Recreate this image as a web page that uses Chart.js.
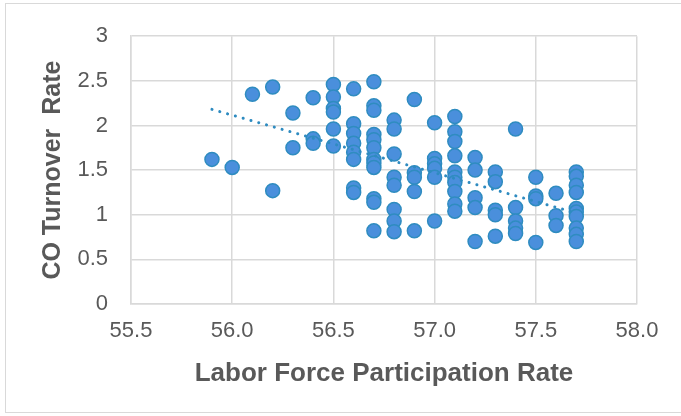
<!DOCTYPE html>
<html><head><meta charset="utf-8">
<script src="https://cdn.jsdelivr.net/npm/chart.js"></script>
<style>
html,body{margin:0;padding:0;background:#fff;}
#wrap{position:relative;width:681px;height:416px;overflow:hidden;}
#frame{position:absolute;left:5px;top:3px;width:677px;height:410px;border:1px solid #D9D9D9;box-sizing:border-box;pointer-events:none;}
canvas{position:absolute;left:0;top:0;}
</style></head><body>
<div id="wrap"><canvas id="c" width="681" height="416"></canvas><div id="frame"></div></div>
<script>
// Labor force participation rate (x) and CO turnover rate (y), one entry per point
const lfpr = [
  55.9,
  56.0,
  56.1,
  56.2, 56.2,
  56.3, 56.3,
  56.4, 56.4, 56.4,
  56.5, 56.5, 56.5, 56.5, 56.5, 56.5,
  56.6, 56.6, 56.6, 56.6, 56.6, 56.6, 56.6, 56.6,
  56.7, 56.7, 56.7, 56.7, 56.7, 56.7, 56.7, 56.7, 56.7, 56.7, 56.7, 56.7,
  56.8, 56.8, 56.8, 56.8, 56.8, 56.8, 56.8, 56.8,
  56.9, 56.9, 56.9, 56.9, 56.9,
  57.0, 57.0, 57.0, 57.0, 57.0, 57.0,
  57.1, 57.1, 57.1, 57.1, 57.1, 57.1, 57.1, 57.1, 57.1, 57.1,
  57.2, 57.2, 57.2, 57.2, 57.2,
  57.3, 57.3, 57.3, 57.3, 57.3,
  57.4, 57.4, 57.4, 57.4, 57.4,
  57.5, 57.5, 57.5, 57.5,
  57.6, 57.6, 57.6,
  57.7, 57.7, 57.7, 57.7, 57.7, 57.7, 57.7, 57.7, 57.7, 57.7
];
const turnover = [
  1.62,
  1.53,
  2.35,
  2.43, 1.27,
  2.14, 1.75,
  2.31, 1.85, 1.80,
  2.46, 2.32, 2.19, 2.15, 1.96, 1.77,
  2.41, 2.02, 1.91, 1.80, 1.70, 1.62, 1.30, 1.25,
  2.49, 2.22, 2.17, 1.90, 1.84, 1.75, 1.62, 1.58, 1.53, 1.18, 1.14, 0.82,
  2.06, 1.96, 1.68, 1.42, 1.33, 1.06, 0.93, 0.81,
  2.29, 1.47, 1.42, 1.26, 0.82,
  2.03, 1.63, 1.57, 1.52, 1.42, 0.93,
  2.10, 1.93, 1.82, 1.66, 1.48, 1.42, 1.36, 1.26, 1.12, 1.04,
  1.64, 1.50, 1.19, 1.08, 0.70,
  1.48, 1.37, 1.05, 1.00, 0.76,
  1.96, 1.08, 0.93, 0.85, 0.79,
  1.42, 1.21, 1.18, 0.69,
  1.24, 0.99, 0.88,
  1.48, 1.43, 1.33, 1.25, 1.07, 1.03, 0.98, 0.85, 0.78, 0.70
];
const xTicks = [55.5, 56.0, 56.5, 57.0, 57.5, 58.0];
const yTicks = [0, 0.5, 1, 1.5, 2, 2.5, 3];
const xTitle = 'Labor Force Participation Rate';
const yTitle = 'CO Turnover  Rate';

// linear least-squares trendline over the data range
const n = lfpr.length;
const mx = lfpr.reduce((a, b) => a + b, 0) / n;
const my = turnover.reduce((a, b) => a + b, 0) / n;
let sxy = 0, sxx = 0;
for (let i = 0; i < n; i++) { sxy += (lfpr[i] - mx) * (turnover[i] - my); sxx += (lfpr[i] - mx) ** 2; }
const slope = sxy / sxx, icpt = my - slope * mx;
const xMin = Math.min(...lfpr), xMax = Math.max(...lfpr);
const trend = [xMin, xMax].map(x => ({x, y: icpt + slope * x}));

const points = lfpr.map((x, i) => ({x, y: turnover[i]}));
const FONT = '"Liberation Sans", Arial, sans-serif';
const TXT = '#595959', GRID = '#D9D9D9';

new Chart(document.getElementById('c'), {
  type: 'scatter',
  data: {
    datasets: [
      {
        type: 'line', data: trend, borderColor: '#2E8BC0', borderWidth: 3,
        borderDash: [0.1, 8], borderCapStyle: 'round', pointRadius: 0, fill: false, order: 0
      },
      {
        data: points, backgroundColor: '#4A8FDC', borderColor: '#2F8CC0',
        borderWidth: 1.5, pointRadius: 7, order: 1
      }
    ]
  },
  options: {
    responsive: false, animation: false,
    layout: {padding: {left: 0, right: 44, top: 32, bottom: 0}},
    plugins: {legend: {display: false}, tooltip: {enabled: false}},
    scales: {
      x: {
        type: 'linear', min: 55.5, max: 58.0,
        afterBuildTicks: s => { s.ticks = xTicks.map(v => ({value: v})); },
        afterFit: s => { s.height = 112; },
        ticks: {color: TXT, font: {family: FONT, size: 22}, padding: 14, callback: v => v.toFixed(1)},
        grid: {color: GRID, lineWidth: 1.5, drawTicks: false},
        border: {color: GRID, width: 1.5},
        title: {display: true, text: xTitle, color: TXT, font: {family: FONT, size: 26, weight: 'bold'}, padding: {top: 0, bottom: 27}}
      },
      y: {
        type: 'linear', min: 0, max: 3,
        afterBuildTicks: s => { s.ticks = yTicks.map(v => ({value: v})); },
        afterFit: s => { s.width = 131; },
        ticks: {color: TXT, font: {family: FONT, size: 22}, padding: 23, callback: v => String(v)},
        grid: {color: GRID, lineWidth: 1.5, drawTicks: false},
        border: {color: GRID, width: 1.5},
        title: {display: true, text: yTitle, color: TXT, font: {family: FONT, size: 25, weight: 'bold'}, padding: {top: 38, bottom: 0}}
      }
    }
  }
});
</script>
</body></html>
